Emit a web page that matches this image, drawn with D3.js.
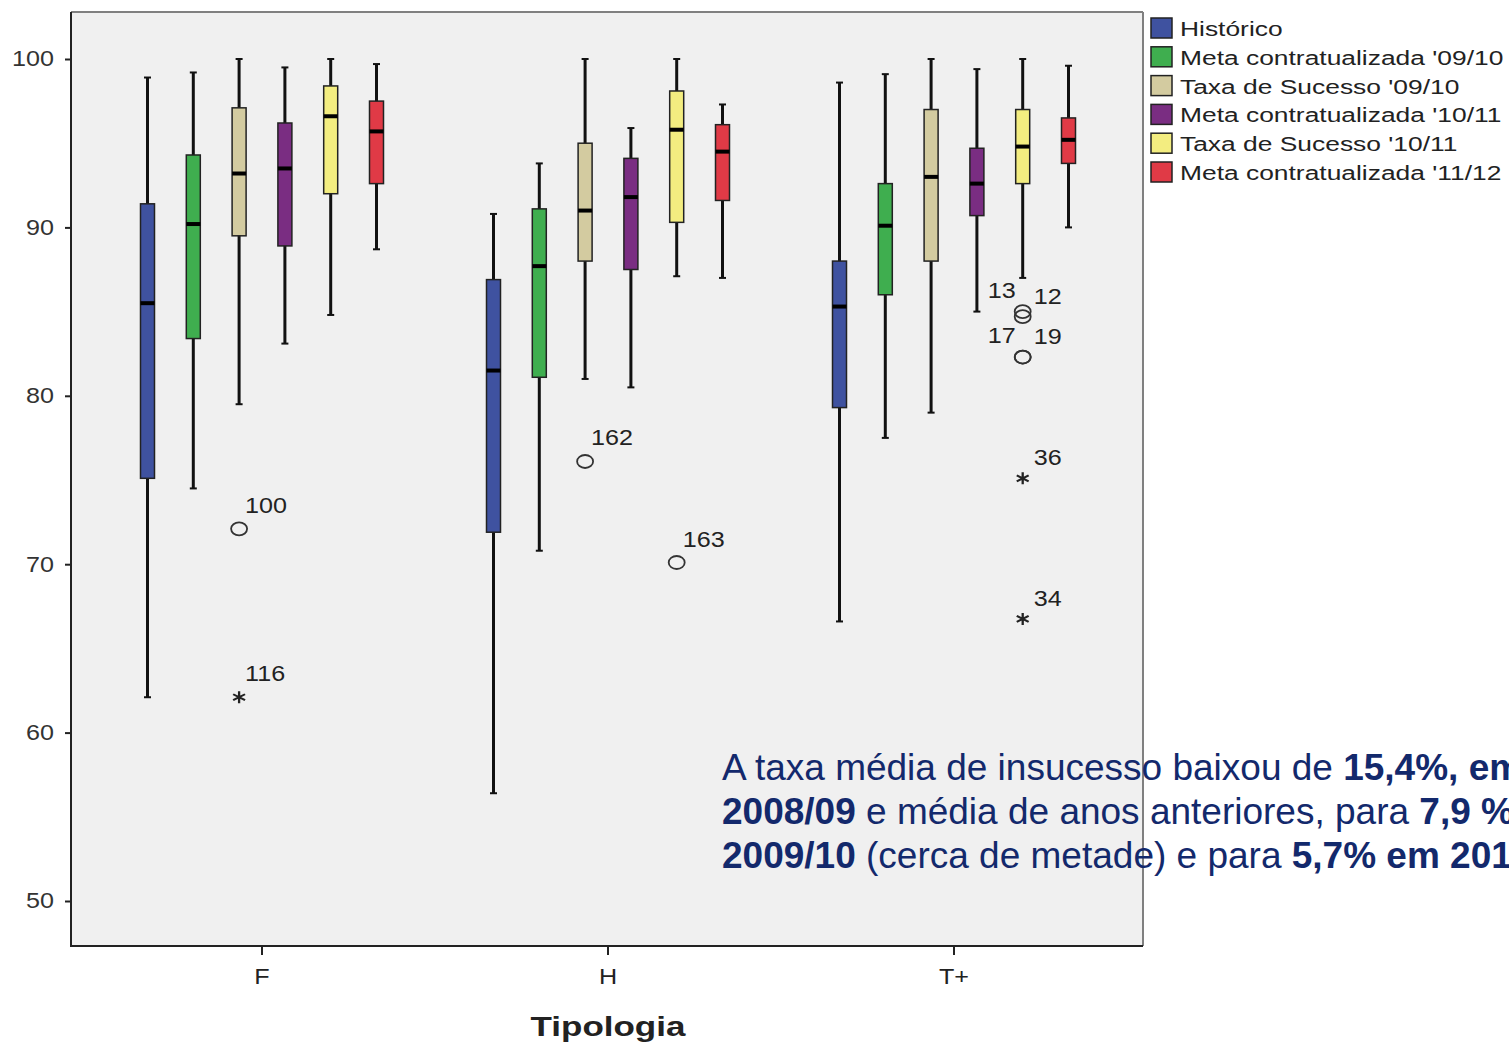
<!DOCTYPE html>
<html>
<head>
<meta charset="utf-8">
<script src="https://cdn.jsdelivr.net/npm/d3@7"></script>
<style>
  html, body { margin: 0; padding: 0; background: #ffffff; }
  svg { display: block; }
  text { font-family: "Liberation Sans", Arial, sans-serif; }
</style>
</head>
<body>
<svg id="chart" width="1509" height="1045"></svg>
<script>
// ---------------- DATA ----------------
const groups = ["F", "H", "T+"];
const seriesNames = [
  "Histórico",
  "Meta contratualizada '09/10",
  "Taxa de Sucesso '09/10",
  "Meta contratualizada '10/11",
  "Taxa de Sucesso '10/11",
  "Meta contratualizada '11/12"
];
const yTicks = [50, 60, 70, 80, 90, 100];

// [lower whisker, Q1, median, Q3, upper whisker] for F, H, T+
const historico      = [[62.1, 75.1, 85.5, 91.4, 98.9], [56.4, 71.9, 81.5, 86.9, 90.8], [66.6, 79.3, 85.3, 88.0, 98.6]];
const meta0910       = [[74.5, 83.4, 90.2, 94.3, 99.2], [70.8, 81.1, 87.7, 91.1, 93.8], [77.5, 86.0, 90.1, 92.6, 99.1]];
const sucesso0910    = [[79.5, 89.5, 93.2, 97.1, 100.0], [81.0, 88.0, 91.0, 95.0, 100.0], [79.0, 88.0, 93.0, 97.0, 100.0]];
const meta1011       = [[83.1, 88.9, 93.5, 96.2, 99.5], [80.5, 87.5, 91.8, 94.1, 95.9], [85.0, 90.7, 92.6, 94.7, 99.4]];
const sucesso1011    = [[84.8, 92.0, 96.6, 98.4, 100.0], [87.1, 90.3, 95.8, 98.1, 100.0], [87.0, 92.6, 94.8, 97.0, 100.0]];
const meta1112       = [[88.7, 92.6, 95.7, 97.5, 99.7], [87.0, 91.6, 94.5, 96.1, 97.3], [90.0, 93.8, 95.2, 96.5, 99.6]];
const seriesStats = [historico, meta0910, sucesso0910, meta1011, sucesso1011, meta1112];

// outliers: group, series index, value, case label, kind, label side
const outlierGroups = ["F", "F", "H", "H", "T+", "T+", "T+", "T+", "T+", "T+"];
const outlierSeries = [2, 2, 2, 4, 4, 4, 4, 4, 4, 4];
const outlierValues = [72.1, 62.1, 76.1, 70.1, 85.0, 84.7, 82.3, 82.3, 75.1, 66.75];
const outlierLabels = ["100", "116", "162", "163", "13", "12", "17", "19", "36", "34"];
const outlierKinds  = ["o", "*", "o", "o", "o", "o", "o", "o", "*", "*"];
const outlierSides  = ["up", "up", "up", "up", "left", "right", "left", "right", "right", "right"];

const seriesColors = ["#3f52a0", "#3fae4f", "#d3cba0", "#7a2d82", "#f3ed80", "#e03a46"];

const noteLines = [
  [["A taxa média de insucesso baixou de ", false], ["15,4%, em", true]],
  [["2008/09", true], [" e média de anos anteriores, para ", false], ["7,9 %", true]],
  [["2009/10", true], [" (cerca de metade) e para ", false], ["5,7% em 201", true]]
];

// ---------------- LAYOUT ----------------
const svg = d3.select("#chart");
const plot = { left: 71, top: 12, right: 1143, bottom: 946 };

const y = d3.scaleLinear().domain([50, 100]).range([901, 59]);
const x = d3.scaleBand().domain(groups).range([89, 1127]);
const xs = d3.scalePoint().domain(d3.range(seriesNames.length)).range([-114.5, 114.5]);
const boxW = 14, capW = 7;
const cx = (g, s) => x(g) + x.bandwidth() / 2 + xs(s);

// plot background
svg.append("rect")
  .attr("x", plot.left).attr("y", plot.top)
  .attr("width", plot.right - plot.left).attr("height", plot.bottom - plot.top)
  .attr("fill", "#f0f0f0");

// frame top and right (grey)
svg.append("line").attr("x1", plot.left).attr("x2", plot.right)
  .attr("y1", plot.top).attr("y2", plot.top)
  .attr("stroke", "#808080").attr("stroke-width", 2);
svg.append("line").attr("x1", plot.right).attr("x2", plot.right)
  .attr("y1", plot.top).attr("y2", plot.bottom)
  .attr("stroke", "#808080").attr("stroke-width", 2);

// ---------------- AXES ----------------
const yAxis = svg.append("g")
  .attr("transform", `translate(${plot.left},0)`)
  .call(d3.axisLeft(y).tickValues(yTicks).tickSize(6).tickPadding(11).tickFormat(d3.format("d")));
yAxis.select(".domain").remove();
yAxis.selectAll(".tick line").attr("stroke", "#222").attr("stroke-width", 2);
yAxis.selectAll(".tick text")
  .attr("font-size", 21.5).attr("fill", "#333")
  .attr("font-family", "'Liberation Sans', Arial, sans-serif")
  .each(function () {
    const t = d3.select(this);
    const xx = +t.attr("x");
    t.attr("transform", `translate(${xx},0) scale(1.17,1) translate(${-xx},0)`);
  });
svg.append("line").attr("x1", plot.left).attr("x2", plot.left)
  .attr("y1", plot.top).attr("y2", plot.bottom)
  .attr("stroke", "#222").attr("stroke-width", 2);

const xAxis = svg.append("g")
  .attr("transform", `translate(0,${plot.bottom})`)
  .call(d3.axisBottom(x).tickSize(9).tickPadding(14));
xAxis.select(".domain").remove();
xAxis.selectAll(".tick line").attr("stroke", "#222").attr("stroke-width", 2);
xAxis.selectAll(".tick text")
  .attr("font-size", 21.5).attr("fill", "#222")
  .attr("font-family", "'Liberation Sans', Arial, sans-serif")
  .attr("transform", "scale(1.17,1)");
svg.append("line").attr("x1", plot.left - 1).attr("x2", plot.right)
  .attr("y1", plot.bottom).attr("y2", plot.bottom)
  .attr("stroke", "#222").attr("stroke-width", 2);

// axis title
const titleX = x("H") + x.bandwidth() / 2;
svg.append("text")
  .attr("transform", `translate(${titleX},1036) scale(1.25,1)`)
  .attr("text-anchor", "middle")
  .attr("font-size", 28).attr("font-weight", "bold").attr("fill", "#222")
  .text("Tipologia");

// ---------------- BOXES ----------------
const boxData = [];
seriesStats.forEach((arr, s) => arr.forEach((st, gi) => {
  boxData.push({ g: groups[gi], s, lo: st[0], q1: st[1], med: st[2], q3: st[3], hi: st[4] });
}));

const boxes = svg.append("g").selectAll("g").data(boxData).join("g");
// whiskers
boxes.append("line")
  .attr("x1", d => cx(d.g, d.s)).attr("x2", d => cx(d.g, d.s))
  .attr("y1", d => y(d.hi)).attr("y2", d => y(d.lo))
  .attr("stroke", "#111").attr("stroke-width", 3);
boxes.append("line")
  .attr("x1", d => cx(d.g, d.s) - capW / 2).attr("x2", d => cx(d.g, d.s) + capW / 2)
  .attr("y1", d => y(d.hi)).attr("y2", d => y(d.hi))
  .attr("stroke", "#111").attr("stroke-width", 2);
boxes.append("line")
  .attr("x1", d => cx(d.g, d.s) - capW / 2).attr("x2", d => cx(d.g, d.s) + capW / 2)
  .attr("y1", d => y(d.lo)).attr("y2", d => y(d.lo))
  .attr("stroke", "#111").attr("stroke-width", 2);
// box
boxes.append("rect")
  .attr("x", d => cx(d.g, d.s) - boxW / 2).attr("width", boxW)
  .attr("y", d => y(d.q3)).attr("height", d => y(d.q1) - y(d.q3))
  .attr("fill", d => seriesColors[d.s])
  .attr("stroke", "#222").attr("stroke-width", 1.5);
// median
boxes.append("line")
  .attr("x1", d => cx(d.g, d.s) - boxW / 2).attr("x2", d => cx(d.g, d.s) + boxW / 2)
  .attr("y1", d => y(d.med)).attr("y2", d => y(d.med))
  .attr("stroke", "#000").attr("stroke-width", 4);

// ---------------- OUTLIERS ----------------
const outliers = outlierValues.map((v, i) => ({
  g: outlierGroups[i], s: outlierSeries[i], v, label: outlierLabels[i],
  kind: outlierKinds[i], side: outlierSides[i]
}));
const og = svg.append("g");
outliers.forEach(o => {
  const px = cx(o.g, o.s), py = y(o.v);
  if (o.kind === "o") {
    og.append("ellipse").attr("cx", px).attr("cy", py).attr("rx", 8).attr("ry", 6.5)
      .attr("fill", "none").attr("stroke", "#333").attr("stroke-width", 1.8);
  } else {
    og.append("path")
      .attr("transform", `translate(${px},${py}) scale(1.15,1)`)
      .attr("d", d3.symbol(d3.symbolAsterisk, 100)())
      .attr("fill", "none").attr("stroke", "#222").attr("stroke-width", 2);
  }
  let dx = 6, dy = -16, anchor = "start";
  if (o.side === "right") { dx = 11; dy = -13; }
  if (o.side === "left") { dx = -7; dy = -14; anchor = "end"; }
  const lx = px + dx, ly = py + dy;
  og.append("text")
    .attr("transform", `translate(${lx},${ly}) scale(1.17,1)`)
    .attr("text-anchor", anchor)
    .attr("font-size", 21.5).attr("fill", "#222")
    .text(o.label);
});

// ---------------- LEGEND ----------------
const legend = svg.append("g").attr("transform", "translate(1151,18)");
const rowH = 28.8;
seriesNames.forEach((name, i) => {
  const row = legend.append("g").attr("transform", `translate(0,${i * rowH})`);
  row.append("rect").attr("width", 21).attr("height", 20)
    .attr("fill", seriesColors[i]).attr("stroke", "#222").attr("stroke-width", 1.5);
  row.append("text")
    .attr("transform", "translate(29,18) scale(1.32,1)")
    .attr("font-size", 20).attr("fill", "#222")
    .text(name);
});

// ---------------- NOTE TEXT ----------------
const note = svg.append("g");
noteLines.forEach((segs, i) => {
  const t = note.append("text")
    .attr("x", 722).attr("y", 780 + i * 44)
    .attr("font-size", 37).attr("fill", "#13296c");
  segs.forEach(([str, bold]) => {
    t.append("tspan").attr("font-weight", bold ? "bold" : "normal").text(str);
  });
});
</script>
</body>
</html>
